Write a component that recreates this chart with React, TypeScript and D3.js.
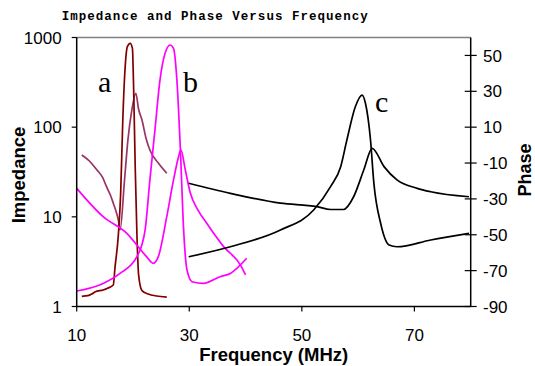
import * as d3 from "d3";

// frequency (MHz) / value pairs
const aImpedance: [number, number][] = [
  [10.9, 1.3], [12.0, 1.32], [12.7, 1.38], [13.3, 1.46], [14.7, 1.53], [15.5, 1.6],
  [16.5, 1.74], [16.8, 2.7], [17.4, 6.3], [17.8, 17.5], [18.2, 126], [18.6, 457],
  [19.0, 790], [19.5, 860], [19.9, 757], [20.1, 298], [20.4, 35], [20.7, 6.3],
  [21.0, 2.25], [21.6, 1.5], [22.7, 1.38], [24.2, 1.31], [26.0, 1.27],
];
const aPhase: [number, number][] = [
  [10.9, -5.5], [12.3, -9], [13.6, -13.9], [14.6, -18], [15.3, -23.2], [16.0, -28],
  [16.5, -32.4], [17.0, -37], [17.4, -41.8], [17.7, -47.3], [18.5, -19.4], [19.1, 2.9],
  [19.8, 19.6], [20.5, 28.9], [21.0, 20], [21.6, 14], [22.3, 4], [23.0, -2.7],
  [24.5, -10], [26.0, -15.7],
];
const bImpedance: [number, number][] = [
  [10.0, 1.49], [14.7, 1.81], [17.7, 2.34], [20.7, 3.59], [22.15, 7.13], [23.0, 25.7],
  [23.9, 93], [24.8, 336], [25.7, 666], [26.6, 825], [27.2, 757], [27.8, 336],
  [28.4, 60.5], [29.0, 7.13], [29.6, 2.55], [30.5, 1.89], [32.5, 1.81], [35.5, 2.15],
  [37.3, 2.34], [40.2, 3.45],
];
const bPhase: [number, number][] = [
  [10.0, -24.1], [14.7, -39.9], [18.9, -49.2], [22.4, -62.2], [23.6, -65.9], [24.5, -62.2],
  [26.0, -39.9], [27.2, -19.4], [28.1, -6.5], [28.5, -2.7], [29.3, -13.9], [30.2, -26.9],
  [31.5, -36], [33.1, -43.6], [36.1, -56.6], [39.1, -66.9], [40.0, -72.4],
];
const cImpedance: [number, number][] = [
  [29.9, 3.59], [37.3, 4.64], [46.2, 7.13], [52.1, 11.9], [55.1, 21.7], [56.9, 36.2],
  [58.0, 71.9], [59.5, 169], [60.7, 228], [61.3, 185], [62.2, 71.9], [62.8, 23.6],
  [64.0, 8.47], [65.5, 4.85], [66.9, 4.64], [72.9, 5.52], [79.7, 6.55],
];
const cPhase: [number, number][] = [
  [29.9, -21.3], [37.3, -26.9], [46.2, -32.4], [52.7, -34.3], [55.1, -35.9], [57.4, -35.9],
  [59.2, -28.8], [61.0, -13.9], [62.5, -1.8], [64.6, -12], [66.9, -19.4], [70.5, -24.1],
  [72.9, -26], [79.7, -28.8],
];

const freqTicks = [10, 30, 50, 70];
const impedanceTicks = [1, 10, 100, 1000];
const phaseTicks = [-90, -70, -50, -30, -10, 10, 30, 50];

const W = 535;
const H = 366;
const left = 76.7;
const right = 470.7;
const top = 37.5;
const bottom = 306.5;

export default function App() {
  const x = d3.scaleLinear().domain([10, 80]).range([left, right]);
  const y = d3.scaleLog().domain([1, 1000]).range([bottom, top]);
  const yp = d3.scaleLinear().domain([-90, 60]).range([bottom, top]);

  const impLine = d3.line<[number, number]>().x((d) => x(d[0])).y((d) => y(d[1])).curve(d3.curveMonotoneX);
  const phLine = d3.line<[number, number]>().x((d) => x(d[0])).y((d) => yp(d[1])).curve(d3.curveMonotoneX);

  const sans = "Liberation Sans, Arial, sans-serif";
  const series = [
    { d: phLine(aPhase), c: "#993366" },
    { d: impLine(aImpedance), c: "#800000" },
    { d: phLine(bPhase), c: "#ff00ff" },
    { d: impLine(bImpedance), c: "#ff00ff" },
    { d: phLine(cPhase), c: "#000000" },
    { d: impLine(cImpedance), c: "#000000" },
  ];

  return (
    <svg width={W} height={H} style={{ position: "absolute", left: 0, top: 0, background: "#fff" }}>
      <text x={61.7} y={19.5} fontFamily="Liberation Mono, Courier New, monospace" fontWeight="bold"
        fontSize={12.5} textLength={306} lengthAdjust="spacing">
        Impedance and Phase Versus Frequency
      </text>

      {/* frame */}
      <line x1={left} x2={right} y1={top} y2={top} stroke="#808080" strokeWidth={1.5} />

      {series.map((s, i) => (
        <path key={i} d={s.d ?? ""} fill="none" stroke={s.c} strokeWidth={1.7} strokeLinejoin="round" />
      ))}

      <line x1={left} x2={left} y1={top} y2={bottom} stroke="#000" strokeWidth={1.5} />
      <line x1={left} x2={right} y1={bottom} y2={bottom} stroke="#000" strokeWidth={1.5} />
      <line x1={right} x2={right} y1={top} y2={bottom} stroke="#000" strokeWidth={1.5} />

      {impedanceTicks.map((t) => (
        <g key={t}>
          <line x1={left - 5} x2={left} y1={y(t)} y2={y(t)} stroke="#000" strokeWidth={1.2} />
          <text x={61.7} y={y(t)} dy="0.36em" textAnchor="end" fontFamily={sans} fontSize={17}>{t}</text>
        </g>
      ))}
      {phaseTicks.map((t) => (
        <g key={t}>
          <line x1={right - 6} x2={right + 6} y1={yp(t)} y2={yp(t)} stroke="#000" strokeWidth={1.2} />
          <text x={483} y={yp(t)} dy="0.36em" textAnchor="start" fontFamily={sans} fontSize={17}>{t}</text>
        </g>
      ))}
      {freqTicks.map((t) => (
        <g key={t}>
          <line x1={x(t)} x2={x(t)} y1={bottom} y2={bottom + 5} stroke="#000" strokeWidth={1.2} />
          <text x={x(t)} y={341} textAnchor="middle" fontFamily={sans} fontSize={17}>{t}</text>
        </g>
      ))}

      <text x={(left + right) / 2} y={361} textAnchor="middle" fontFamily={sans} fontWeight="bold" fontSize={18.5}>
        Frequency (MHz)
      </text>
      <text transform="translate(24.5,175) rotate(-90)" textAnchor="middle" fontFamily={sans} fontWeight="bold" fontSize={18.5}>
        Impedance
      </text>
      <text transform="translate(531,170) rotate(-90)" textAnchor="middle" fontFamily={sans} fontWeight="bold" fontSize={18}>
        Phase
      </text>

      <text x={98} y={91.7} fontFamily="Liberation Serif, Times New Roman, serif" fontSize={30}>a</text>
      <text x={183} y={91.7} fontFamily="Liberation Serif, Times New Roman, serif" fontSize={30}>b</text>
      <text x={375} y={111.7} fontFamily="Liberation Serif, Times New Roman, serif" fontSize={30}>c</text>
    </svg>
  );
}
